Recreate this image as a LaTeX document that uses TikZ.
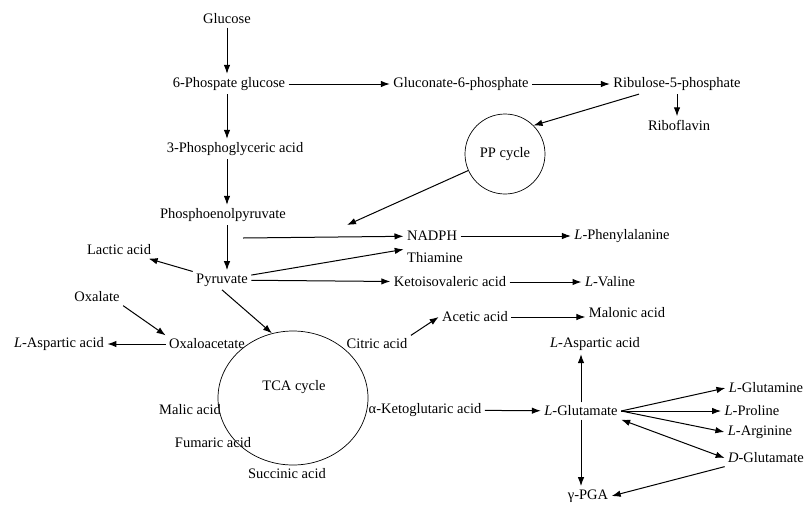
\documentclass[tikz,border=0pt]{standalone}
\usepackage{fontspec}
\setmainfont{Liberation Serif}
\usetikzlibrary{arrows.meta,shapes.geometric}
\begin{document}
\begin{tikzpicture}[x=1pt,y=-1pt,every node/.style={font=\fontsize{14.5}{17}\selectfont}]
\useasboundingbox (0,0) rectangle (810,504);

\node (glc) at (227,19) {Glucose};
\node (g6p) at (229,84) {6-Phospate glucose};
\node (gcn) at (461,84) {Gluconate-6-phosphate};
\node (rib) at (677,84) {Ribulose-5-phosphate};
\node (ribo) at (679,125) {Riboflavin};
\node (pp) at (505,154) [circle,draw,line width=0.7pt,minimum size=80pt,inner sep=0pt] {PP cycle};

\node (pga) at (235,149) {3-Phosphoglyceric acid};
\node (pep) at (223,215) {Phosphoenolpyruvate};
\node (nadph) at (432,236) {NADPH};
\node (phe) at (622,236) {\textit{L}-Phenylalanine};
\node (thia) at (435,258) {Thiamine};
\node (lac) at (119,250) {Lactic acid};
\node (pyr) at (222,280) {Pyruvate};
\node (kiv) at (450,282) {Ketoisovaleric acid};
\node (val) at (610,282) {\textit{L}-Valine};

\node (oxl) at (97,297) {Oxalate};
\node (oxa) at (207,344) {Oxaloacetate};
\node (aspl) at (59,344) {\textit{L}-Aspartic acid};
\node (cit) at (377,344) {Citric acid};
\node (ace) at (475,317) {Acetic acid};
\node (mal) at (627,313) {Malonic acid};
\node (asp) at (595,344) {\textit{L}-Aspartic acid};

\node (tca) at (293,398) [ellipse,draw,line width=0.7pt,minimum width=150pt,minimum height=134pt,inner sep=0pt] {};
\node (tcat) at (294,387) {TCA cycle};
\node (malic) at (190,410) {Malic acid};
\node (fum) at (213,443) {Fumaric acid};
\node (suc) at (287,474) {Succinic acid};
\node (akg) at (425,410) {α-Ketoglutaric acid};
\node (glu) at (581,411) {\textit{L}-Glutamate};
\node (gln) at (766,388) {\textit{L}-Glutamine};
\node (pro) at (752,411) {\textit{L}-Proline};
\node (arg) at (760,432) {\textit{L}-Arginine};
\node (dglu) at (766,458) {\textit{D}-Glutamate};
\node (gpga) at (588,496) {γ-PGA};

\coordinate (pepb) at (243,238);
\coordinate (ppend) at (347,225);

\tikzset{arr/.style={-{Latex[length=9pt,width=6.5pt]},line width=1pt}};
\tikzset{arr2/.style={{Latex[length=9pt,width=6.5pt]}-{Latex[length=9pt,width=6.5pt]},line width=1pt}};
\path (glc.south) edge [arr] (glc.south |- g6p.north);
\path (g6p.south -| glc.south) edge [arr] (glc.south |- pga.north);
\path (pga.south -| glc.south) edge [arr] (glc.south |- pep.north);
\path (pep.south -| glc.south) edge [arr] (glc.south |- pyr.north);

\path (g6p) edge [arr] (gcn);
\path (gcn) edge [arr] (rib);
\path (rib.south) edge [arr] (rib.south |- ribo.north);
\path ([xshift=-38pt]rib.south) edge [arr] (pp.north east);
\path (pp) edge [arr] (ppend);

\path (pepb) edge [arr] (nadph);
\path (nadph) edge [arr] (phe);
\path (pyr) edge [arr] (lac);
\path (pyr) edge [arr] (thia.north west);
\path (pyr) edge [arr] (kiv);
\path (kiv) edge [arr] (val);
\path (pyr.south) edge [arr] (tca.108);

\path (oxl.south east) edge [arr] (oxa.north west);
\path (oxa) edge [arr] (aspl);
\path (cit.north east) edge [arr] (ace.west);
\path (ace.east) edge [arr] (ace.east -| mal.west);

\path (akg) edge [arr] (glu);
\path (glu.north) edge [arr] (glu.north |- asp.south);
\path (glu.south) edge [arr] (glu.south |- gpga.north);
\path (glu.east) edge [arr] (gln.west);
\path (glu.east) edge [arr] (pro.west);
\path (glu.east) edge [arr] (arg.west);
\path (glu.south east) edge [arr2] (dglu.west);
\path (dglu.south west) edge [arr] (gpga.east);
\end{tikzpicture}
\end{document}
